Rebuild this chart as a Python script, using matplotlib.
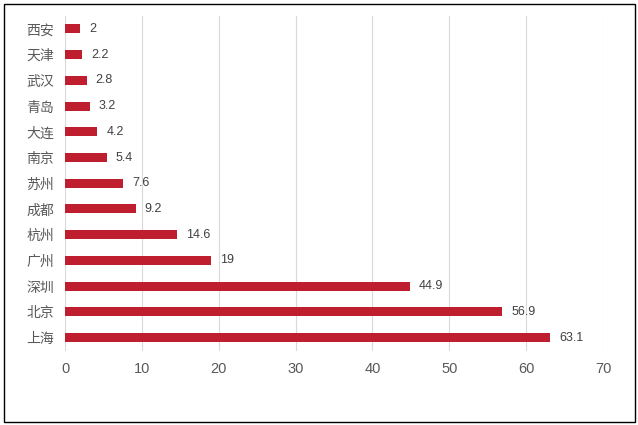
import matplotlib
matplotlib.use("Agg")
import matplotlib.pyplot as plt
from matplotlib.patches import Rectangle

plt.rcParams['font.family'] = ['Liberation Sans', 'Noto Sans CJK SC', 'DejaVu Sans']

# data, top to bottom as shown
cities = ['西安', '天津', '武汉', '青岛', '大连', '南京', '苏州', '成都', '杭州', '广州', '深圳', '北京', '上海']
values = [2, 2.2, 2.8, 3.2, 4.2, 5.4, 7.6, 9.2, 14.6, 19, 44.9, 56.9, 63.1]
labels = ['2', '2.2', '2.8', '3.2', '4.2', '5.4', '7.6', '9.2', '14.6', '19', '44.9', '56.9', '63.1']

W, H = 638, 425
fig = plt.figure(figsize=(W / 100, H / 100), dpi=100)
ax = fig.add_axes([65 / W, 1 - 350.5 / H, (603 - 65) / W, (350.5 - 16) / H])

pos = list(range(len(cities)))
ax.barh(pos, values, height=0.35, color='#BE1E2D', zorder=3)
for p, v, t in zip(pos, values, labels):
    ax.annotate(t, (v, p), xytext=(6.5, 0), textcoords='offset points',
                va='center', ha='left', fontsize=9, color='#404040')

ax.set_xlim(0, 70)
ax.set_ylim(len(cities) - 0.5, -0.5)
ax.set_xticks(range(0, 71, 10))
ax.set_yticks(pos)
ax.set_yticklabels(cities, family=['Noto Sans CJK SC', 'DejaVu Sans'])
ax.tick_params(axis='y', length=0, pad=8, labelsize=10, labelcolor='#595959')
ax.tick_params(axis='x', length=0, pad=8, labelsize=10.5, labelcolor='#595959')
ax.grid(axis='x', color='#d9d9d9', lw=0.8, zorder=0)
for s in ax.spines.values():
    s.set_visible(False)

fig.add_artist(Rectangle((3.5 / W, 1 - 421.5 / H), 631 / W, 418 / H,
                         transform=fig.transFigure, fill=False, ec='black', lw=1))

fig.savefig('out.png', dpi=100)
